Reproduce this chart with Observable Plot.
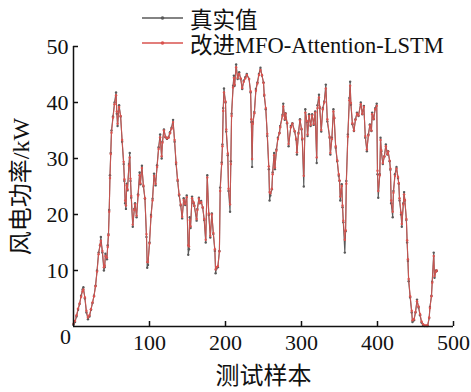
<!DOCTYPE html>
<html>
<head>
<meta charset="utf-8">
<script src="https://cdn.jsdelivr.net/npm/d3@7"></script>
<script src="https://cdn.jsdelivr.net/npm/@observablehq/plot@0.6"></script>
<style>
  html, body { margin: 0; padding: 0; background: #fff; }
  #wrap { position: relative; width: 471px; height: 392px; font-family: "Liberation Serif", "Noto Sans CJK SC", serif; }
  #legend { position: absolute; left: 0; top: 0; width: 471px; height: 56px; pointer-events: none; }
  .lg { position: absolute; left: 142px; display: flex; align-items: center; font-size: 22.5px; color: #111; white-space: nowrap; }
  .lg svg { margin-right: 7px; }
</style>
</head>
<body>
<div id="wrap">
  <div id="chart"></div>
  <div id="legend">
    <div class="lg" style="top:2px"><svg width="41" height="10"><line x1="0" y1="5" x2="41" y2="5" stroke="#5a5a5a" stroke-width="1.6"/><circle cx="20.5" cy="5" r="1.8" fill="#5a5a5a"/></svg><span>真实值</span></div>
    <div class="lg" style="top:27px"><svg width="41" height="10"><line x1="0" y1="5" x2="41" y2="5" stroke="#d9534f" stroke-width="1.6"/><circle cx="20.5" cy="5" r="1.8" fill="#d9534f"/></svg><span>改进MFO-Attention-LSTM</span></div>
  </div>
</div>
<script>
const samples = [0,2,4,6,8,10,12,13,15,17,19,21,23,25,27,29,31,33,35,36,38,40,41,42,44,45,46,47,48,49,50,52,54,56,57,58,60,62,64,66,67,68,69,70,71,73,74,75,76,78,80,81,83,85,87,88,90,92,94,96,97,98,100,102,104,106,108,110,112,114,116,117,119,121,123,125,127,129,131,133,135,137,139,141,143,145,147,149,151,152,153,154,156,158,159,162,163,165,166,168,170,172,174,176,178,180,182,184,186,187,188,190,192,193,195,196,197,198,200,201,203,204,206,207,208,210,211,212,214,216,218,220,222,224,226,228,231,233,234,235,236,238,240,242,244,246,248,250,251,253,255,257,258,259,261,262,264,265,267,269,271,272,275,276,278,279,281,283,286,288,291,293,294,296,298,300,301,303,305,307,308,310,312,314,316,318,320,321,323,324,326,328,330,332,334,337,338,340,342,343,345,347,349,350,351,353,354,355,357,358,359,361,363,364,365,367,369,371,373,375,378,380,382,384,386,388,390,392,393,395,397,399,400,401,403,404,405,407,409,411,413,414,416,417,418,420,421,423,425,427,428,429,431,432,434,435,436,438,439,440,441,443,445,446,448,450,452,454,456,458,460,462,464,466,468,469,471,472,474,475,477,478];

const actual = [0.3,0.8,1.8,3.0,4.0,5.5,6.6,7.0,5.0,2.5,1.3,1.8,3.0,4.2,5.5,7.3,10.0,13.2,14.5,16.0,13.2,10.0,10.6,13.0,12.0,14.5,16.5,20.8,27.0,31.0,35.0,37.5,40.0,41.8,38.0,35.8,39.5,37.5,33.0,29.0,26.0,22.0,21.0,25.5,24.3,29.0,31.0,26.0,23.0,17.8,21.0,22.0,19.5,23.6,27.5,25.4,28.7,25.0,22.8,16.0,10.5,11.0,15.0,19.9,22.8,27.3,25.2,28.8,32.0,34.3,30.0,33.0,35.2,33.8,33.5,33.8,34.7,35.5,36.9,33.0,29.0,26.0,23.4,21.6,19.3,22.9,21.7,23.4,12.8,13.8,19.5,17.6,23.2,22.0,21.5,18.9,21.0,23.0,22.0,22.4,21.2,19.0,15.0,27.0,19.9,15.9,20.2,16.5,13.5,9.5,10.3,10.6,13.5,24.8,29.3,32.5,39.0,42.5,40.0,34.8,30.6,24.2,20.5,29.5,38.0,43.0,44.8,43.0,46.8,44.2,45.4,44.2,42.4,43.9,44.5,45.1,44.2,41.8,36.5,28.5,36.5,38.3,42.4,43.6,45.1,46.2,44.8,43.6,41.2,38.8,34.0,28.1,22.5,23.4,24.5,27.5,31.0,28.1,31.6,33.7,34.6,35.8,37.8,39.8,36.9,38.1,36.3,32.2,35.8,36.3,34.8,33.4,30.7,34.6,37.0,35.2,33.4,25.0,38.8,36.5,34.0,37.9,35.8,37.9,36.0,38.4,29.2,39.5,41.4,39.0,34.8,39.0,40.2,43.2,36.6,33.7,30.7,33.7,38.8,37.2,31.9,29.5,26.9,26.0,22.5,25.4,21.3,18.6,13.2,17.0,26.0,34.3,40.8,43.7,39.6,36.1,34.9,37.0,38.2,37.6,40.0,37.9,39.4,33.7,31.3,34.3,36.1,34.9,38.2,37.0,39.0,39.8,27.2,23.0,27.2,33.7,31.3,29.0,30.4,32.5,30.7,31.3,29.5,28.0,22.0,19.5,24.2,27.2,28.5,26.5,25.5,22.5,20.0,17.8,22.0,24.0,22.5,19.0,15.0,11.7,8.1,5.2,2.5,0.8,1.1,2.5,4.8,3.4,2.0,0.7,0.2,0.1,0.1,0.1,1.5,3.5,5.5,8.0,13.2,8.7,10.0,9.9];

const predicted = [0.5,1.0,2.0,3.2,4.1,5.3,6.3,6.6,5.2,2.8,1.6,2.0,3.1,4.3,5.4,7.2,9.8,12.9,14.6,15.3,13.5,10.6,10.9,12.6,12.3,14.2,16.3,20.5,26.5,30.8,34.6,37.3,39.7,41.3,38.4,36.2,39.2,37.6,33.3,29.4,26.3,22.5,21.6,25.2,24.5,28.7,30.2,26.4,23.3,18.2,20.8,21.8,19.8,23.4,27.0,25.6,28.3,25.2,22.9,16.5,11.5,11.5,14.8,19.6,22.5,26.9,25.5,28.5,31.7,33.8,30.4,32.8,35.0,33.9,33.6,33.7,34.5,35.3,36.5,33.3,29.3,26.2,23.6,21.8,19.6,22.6,21.9,23.1,14.5,14.3,19.0,17.9,22.9,22.2,21.6,19.2,20.8,22.8,22.1,22.2,21.3,19.2,15.5,26.6,20.2,16.2,20.0,16.7,13.8,10.2,10.6,10.8,13.4,24.2,29.0,32.2,38.5,41.8,40.2,35.2,30.9,24.6,21.8,29.0,37.6,42.7,44.4,43.2,46.3,44.4,45.1,44.3,42.6,43.7,44.3,44.9,44.2,42.0,37.0,29.9,36.2,38.1,42.1,43.4,44.9,45.8,44.9,43.5,41.4,39.0,34.4,28.6,24.0,23.8,24.6,27.2,30.6,28.4,31.4,33.5,34.5,35.6,37.6,39.3,37.1,38.0,36.4,32.6,35.6,36.2,34.9,33.5,31.1,34.4,36.8,35.3,33.6,26.9,38.2,36.7,34.3,37.6,36.0,37.7,36.2,38.2,30.2,39.0,40.9,39.2,35.1,38.8,40.0,42.5,37.0,33.9,31.0,33.5,38.4,37.3,32.2,29.7,27.2,26.1,23.2,25.1,21.6,18.9,15.5,17.2,25.5,33.9,40.4,43.0,39.9,36.3,35.0,36.9,38.0,37.7,39.7,38.0,39.2,34.0,31.6,34.1,35.9,35.0,37.9,37.1,38.8,39.4,27.8,24.2,27.0,33.3,31.5,29.2,30.3,32.2,30.8,31.2,29.6,28.2,22.5,20.5,23.9,26.9,28.2,26.7,25.6,22.9,20.3,18.3,21.8,23.6,22.6,19.2,15.4,12.0,8.5,5.4,2.8,1.1,1.3,2.6,4.5,3.6,2.2,0.9,0.4,0.2,0.2,0.2,1.6,3.3,5.4,7.8,12.6,9.0,9.8,10.0];

const xTicks = [0, 100, 200, 300, 400, 500];
const yTicks = [10, 20, 30, 40, 50];

const rows = samples.map((s, k) => ({i: s, actual: actual[k], predicted: predicted[k]}));

const gray = "#5a5a5a";
const red = "#d9534f";

const chart = Plot.plot({
  width: 471,
  height: 392,
  marginLeft: 73,
  marginRight: 18,
  marginTop: 46,
  marginBottom: 66,
  style: { fontFamily: '"Liberation Serif", "Noto Sans CJK SC", serif', fontSize: "22px", color: "#111", background: "#fff" },
  x: { domain: [0, 500] },
  y: { domain: [0, 50] },
  marks: [
    Plot.line(rows, { x: "i", y: "actual", stroke: gray, strokeWidth: 1.1 }),
    Plot.dot(rows, { x: "i", y: "actual", r: 1.2, fill: gray }),
    Plot.line(rows, { x: "i", y: "predicted", stroke: red, strokeWidth: 1.1, strokeOpacity: 0.85 }),
    Plot.dot(rows, { x: "i", y: "predicted", r: 1.2, fill: red }),
    // inward ticks
    Plot.axisX(xTicks.filter(d => d > 0), { tickSize: 5, dy: -5, tickFormat: () => "", label: null, stroke: "#111", strokeWidth: 1.5 }),
    Plot.axisY(yTicks, { tickSize: 5, dx: 5, tickFormat: () => "", label: null, stroke: "#111", strokeWidth: 1.5 }),
    // labels
    Plot.axisX(xTicks.filter(d => d > 0), { tickSize: 0, tickPadding: 8, label: null }),
    Plot.axisX({ ticks: [], label: "测试样本", labelAnchor: "center", labelArrow: "none", labelOffset: 57, fontSize: 24 }),
    Plot.text(xTicks.filter(d => d === 0), { x: d => d, frameAnchor: "bottom", dy: 17, dx: -8, text: d => String(d), fontSize: 22, fill: "#111" }),
    Plot.axisY(yTicks, { tickSize: 0, tickPadding: 5, label: null }),
    Plot.axisY({ ticks: [], label: "风电功率/kW", labelAnchor: "center", labelArrow: "none", labelOffset: 62, fontSize: 24 }),
    Plot.ruleX([0], { stroke: "#111", strokeWidth: 1.5 }),
    Plot.ruleY([0], { stroke: "#111", strokeWidth: 1.5 })
  ]
});
document.getElementById("chart").appendChild(chart);
</script>
</body>
</html>
